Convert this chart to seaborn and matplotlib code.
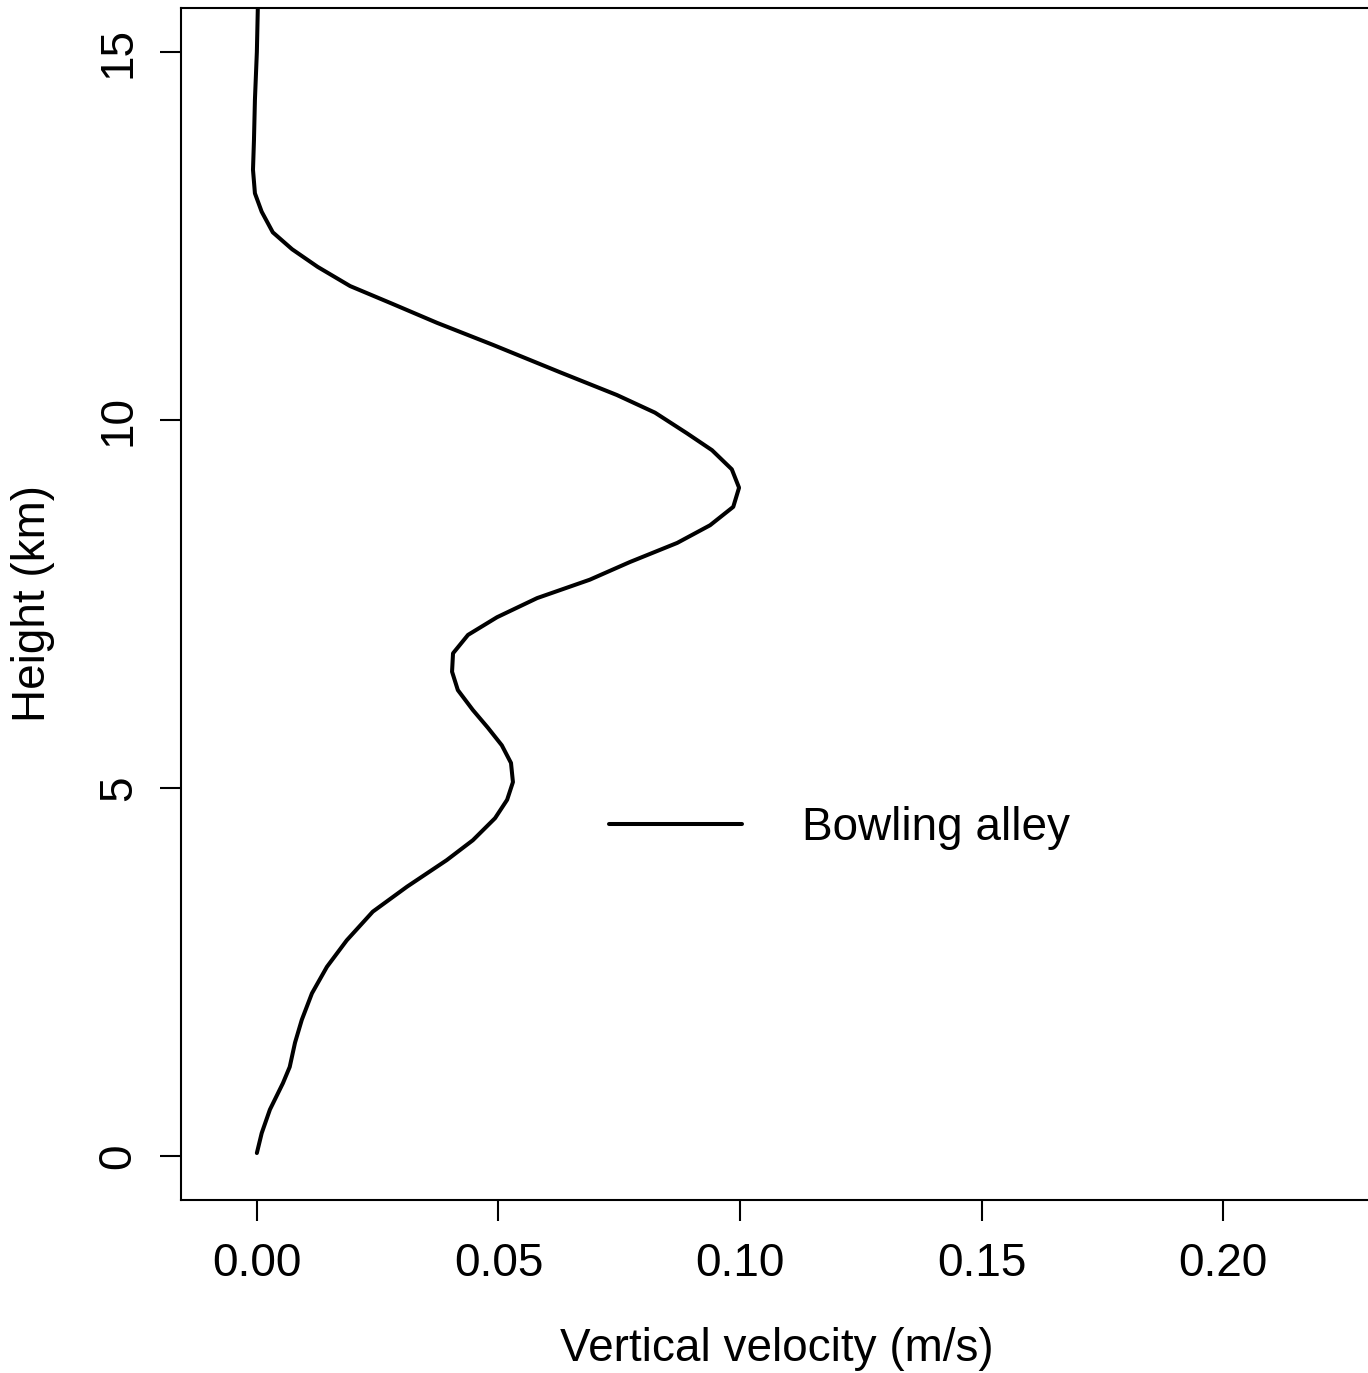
import numpy as np
import pandas as pd
import seaborn as sns
import matplotlib.pyplot as plt

# Profile (bottom to top)
velocity = [0.0000, 0.0010, 0.0027, 0.0054, 0.0068, 0.0079, 0.0093, 0.0114, 0.0145,
            0.0186, 0.0240, 0.0311, 0.0393, 0.0447, 0.0493, 0.0518, 0.0530, 0.0526,
            0.0507, 0.0478, 0.0447, 0.0416, 0.0404, 0.0406, 0.0437, 0.0497, 0.0580,
            0.0689, 0.0772, 0.0870, 0.0938, 0.0986, 0.0998, 0.0983, 0.0942, 0.0890,
            0.0824, 0.0745, 0.0627, 0.0489, 0.0373, 0.0280, 0.0193, 0.0126, 0.0073,
            0.0033, 0.0010, -0.0004, -0.0008, -0.0006, -0.0004, 0.0000, 0.0002]
height = [0.04, 0.31, 0.63, 0.99, 1.21, 1.54, 1.85, 2.21, 2.57,
          2.93, 3.32, 3.66, 4.02, 4.29, 4.59, 4.84, 5.08, 5.34,
          5.58, 5.82, 6.06, 6.33, 6.58, 6.83, 7.08, 7.32, 7.58,
          7.83, 8.07, 8.33, 8.57, 8.82, 9.08, 9.33, 9.59, 9.82,
          10.10, 10.34, 10.65, 11.02, 11.32, 11.58, 11.82, 12.08, 12.32,
          12.55, 12.83, 13.08, 13.40, 13.80, 14.35, 15.00, 15.60]
series_name = 'Bowling alley'
x_ticks = [0.00, 0.05, 0.10, 0.15, 0.20]
y_ticks = [0, 5, 10, 15]

df = pd.DataFrame({'velocity': velocity, 'height': height, 'site': series_name})

sns.set_style('ticks')
plt.rcParams['font.family'] = ['Liberation Sans', 'DejaVu Sans']
plt.rcParams['text.color'] = 'black'
plt.rcParams['axes.labelcolor'] = 'black'

fig = plt.figure(figsize=(13.68, 13.73), dpi=100)
ax = fig.add_axes([181 / 1368, 173 / 1373, (1372 - 181) / 1368, (1365 - 173) / 1373])

sns.lineplot(data=df, x='velocity', y='height', hue='site', palette=['black'],
             sort=False, estimator=None, linewidth=2.9, ax=ax)

ax.set_xlim(-0.0157, 0.2308)
ax.set_ylim(-0.598, 15.598)
ax.set_xticks(x_ticks)
ax.set_xticklabels([f'{v:.2f}' for v in x_ticks])
ax.set_yticks(y_ticks)
ax.set_yticklabels([str(v) for v in y_ticks], rotation=90, va='center')

for s in ax.spines.values():
    s.set_linewidth(1.5)
    s.set_color('black')
ax.tick_params(axis='both', length=15, width=1.5, labelsize=33, colors='black')
ax.tick_params(axis='x', pad=15)
ax.tick_params(axis='y', pad=14)

ax.set_xlabel('Vertical velocity (m/s)', fontsize=33, labelpad=30)
ax.set_ylabel('Height (km)', fontsize=33, labelpad=30)

leg = ax.legend(frameon=False, fontsize=33, handlelength=2.9, handletextpad=1.3,
                borderpad=0, borderaxespad=0, loc='center left',
                bbox_to_anchor=(0.3597, 0.312))
for h in leg.get_lines():
    h.set_linewidth(2.9)

fig.savefig('out.png', dpi=100)
